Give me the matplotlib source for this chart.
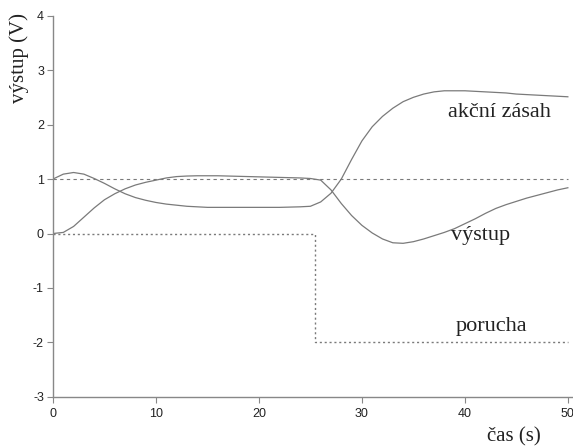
import matplotlib
matplotlib.use("Agg")
import matplotlib.pyplot as plt

# time axis (s)
t = list(range(0, 51))

# výstup (output)
vystup = [0.00, 0.02, 0.13, 0.30, 0.47, 0.62, 0.73, 0.82, 0.89, 0.94,
          0.98, 1.02, 1.045, 1.055, 1.06, 1.06, 1.06, 1.055, 1.05, 1.045,
          1.04, 1.035, 1.03, 1.025, 1.02, 1.01, 0.98, 0.80, 0.55, 0.33,
          0.15, 0.01, -0.10, -0.17, -0.18, -0.15, -0.10, -0.04, 0.02, 0.09,
          0.18, 0.27, 0.37, 0.46, 0.53, 0.59, 0.65, 0.70, 0.75, 0.80, 0.84]

# akční zásah (control action)
akcni = [1.00, 1.09, 1.12, 1.09, 1.01, 0.92, 0.82, 0.73, 0.66, 0.61,
         0.57, 0.54, 0.52, 0.50, 0.49, 0.48, 0.48, 0.48, 0.48, 0.48,
         0.48, 0.48, 0.48, 0.485, 0.49, 0.50, 0.58, 0.74, 1.00, 1.36,
         1.70, 1.96, 2.15, 2.30, 2.42, 2.50, 2.56, 2.60, 2.62, 2.62,
         2.62, 2.61, 2.60, 2.59, 2.58, 2.56, 2.55, 2.54, 2.53, 2.52, 2.51]

# setpoint
w_t = [0, 50]
w_v = [1, 1]

# porucha (disturbance)
d_t = [0, 25.4, 25.4, 50]
d_v = [0, 0, -2, -2]

labels = ["akční zásah", "výstup", "porucha"]
label_pos = [(38.4, 2.22), (38.7, -0.03), (39.1, -1.70)]

xticks = [0, 10, 20, 30, 40, 50]
yticks = [-3, -2, -1, 0, 1, 2, 3, 4]

fig = plt.figure(figsize=(5.73, 4.46), dpi=100)
ax = fig.add_axes([0.0925, 0.110, 0.9075, 0.855])

lc = "#7a7a7a"
ax.plot(t, akcni, color=lc, lw=0.9)
ax.plot(t, vystup, color=lc, lw=0.9)
ax.plot(w_t, w_v, color=lc, lw=0.8, ls=(0, (3, 3)))
ax.plot(d_t, d_v, color=lc, lw=1.0, ls=(0, (1.5, 2)))

for lab, (x, y) in zip(labels, label_pos):
    ax.text(x, y, lab, family="Liberation Serif", fontsize=16,
            color="#222222", ha="left", va="center")

ax.set_xlim(0, 50.5)
ax.set_ylim(-3, 4)
ax.set_xticks(xticks)
ax.set_yticks(yticks)
ax.set_xticklabels([str(v) for v in xticks], family="Liberation Sans", fontsize=9)
ax.set_yticklabels([str(v) for v in yticks], family="Liberation Sans", fontsize=9)

for s in ["top", "right"]:
    ax.spines[s].set_visible(False)
for s in ["left", "bottom"]:
    ax.spines[s].set_color("#888888")
    ax.spines[s].set_linewidth(1.0)
ax.tick_params(axis="y", direction="out", length=4.5, width=0.8, color="#888888",
               labelcolor="#222222", pad=2)
ax.tick_params(axis="x", direction="out", length=4, width=0.8, color="#888888",
               labelcolor="#222222", pad=4)

fig.text(0.033, 0.87, "výstup (V)", rotation=90, family="Liberation Serif",
         fontsize=15, ha="center", va="center", color="#222222")
fig.text(0.897, 0.02, "čas (s)", family="Liberation Serif",
         fontsize=15, ha="center", va="center", color="#222222")

fig.savefig("out.png", dpi=100)
